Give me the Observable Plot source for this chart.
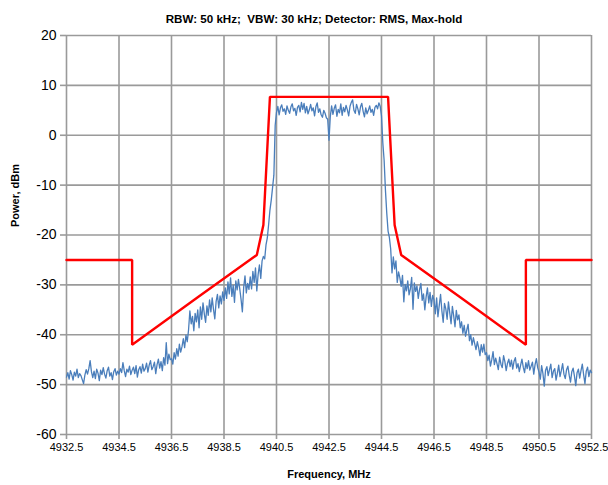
<!DOCTYPE html>
<html>
<head>
<meta charset="utf-8">
<script src="https://cdn.jsdelivr.net/npm/d3@7"></script>
<script src="https://cdn.jsdelivr.net/npm/@observablehq/plot@0.6"></script>
<style>
  html, body { margin: 0; padding: 0; background: #fff; }
  #chart svg { display: block; }
</style>
</head>
<body>
<div id="chart"></div>
<script>
const titleText = "RBW: 50 kHz;  VBW: 30 kHz; Detector: RMS, Max-hold";
const xLabel = "Frequency, MHz";
const yLabel = "Power, dBm";

const xTickValues = [4932.5, 4934.5, 4936.5, 4938.5, 4940.5, 4942.5, 4944.5, 4946.5, 4948.5, 4950.5, 4952.5];
const yTickValues = [-60, -50, -40, -30, -20, -10, 0, 10, 20];

// Spectrum sweep: start frequency and step (MHz)
const sweepStart = 4932.5;
const sweepStep = 0.05;
// Measured power (dBm), one row per MHz
const spectrumPower = [
  -48.5, -47.6, -48.9, -47.2, -48.0, -49.1, -47.5, -48.3, -46.9, -48.6, -47.8, -48.2, -49.0, -49.8, -48.1, -47.0, -47.9, -46.8, -45.2, -47.4,
  -48.6, -47.3, -48.8, -46.9, -47.7, -49.2, -47.1, -48.0, -46.6, -47.9, -48.7, -47.2, -46.5, -48.3, -47.6, -49.0, -47.4, -46.8, -48.1, -47.3,
  -47.9, -46.8, -47.6, -45.6, -47.2, -48.4, -46.9, -47.5, -46.3, -48.0, -47.1, -46.5, -47.8, -46.2, -48.5, -47.0, -46.4, -47.7, -45.9, -47.3,
  -46.8, -45.7, -47.5, -46.1, -45.2, -47.0, -46.4, -45.5, -47.8, -46.0, -44.9, -46.7, -45.4, -47.2, -44.6, -46.1, -41.6, -45.8, -43.9, -45.0,
  -44.8, -45.9, -43.6, -44.9, -42.8, -44.3, -41.9, -43.5, -42.4, -40.8, -42.6, -40.1, -41.4, -39.0, -35.2, -37.8, -36.3, -39.2, -35.7, -37.4,
  -35.0, -38.6, -34.4, -36.9, -33.6, -35.8, -37.5, -34.2, -36.1, -33.0, -35.4, -32.6, -34.9, -36.8, -33.3, -31.9, -34.6, -32.2, -33.8, -31.4,
  -33.1, -30.6, -32.7, -29.4, -31.8, -28.6, -32.3, -30.1, -33.5, -29.2, -31.0, -28.9, -30.8, -32.9, -35.4, -30.5, -28.2, -31.6, -29.7, -30.9,
  -28.4, -30.8, -27.3, -29.5, -26.6, -31.2, -27.9, -26.0, -28.7, -25.2, -24.3, -24.8, -22.0, -20.6, -17.9, -15.0, -13.0, -10.5, -8.0, 2.0,
  4.6, 5.8, 4.1, 5.5, 6.1, 4.8, 5.3, 4.2, 5.9, 5.0, 4.4, 5.7, 6.3, 4.9, 5.4, 4.0, 5.6, 6.0, 4.7, 6.6,
  5.2, 6.4, 4.5, 5.8, 4.3, 5.1, 6.2, 4.9, 5.5, 3.9, 5.7, 6.5, 4.6, 5.3, 4.1, 3.6, 5.0, 4.4, 3.5, 3.2,
  -1.0, 3.8, 5.9, 4.2, 5.4, 6.1, 3.8, 5.2, 4.5, 6.3, 4.0, 5.6, 4.7, 6.0, 5.1, 3.9, 5.8, 6.6, 7.1, 5.0,
  4.4, 6.2, 5.3, 4.1, 5.7, 6.4, 4.8, 3.7, 5.5, 4.3, 5.0, 5.9, 4.6, 5.2, 4.0, 5.6, 6.0, 5.3, 6.5, 5.8,
  3.9, -1.5, -5.0, -11.0, -15.6, -19.2, -20.5, -22.8, -27.6, -24.4, -26.8, -25.2, -29.5, -27.4, -28.6, -30.3, -28.1, -33.4, -29.9, -31.2,
  -29.2, -32.0, -30.8, -28.5, -34.9, -29.6, -31.3, -30.2, -32.7, -30.9, -29.7, -33.1, -31.8, -35.0, -32.4, -30.6, -33.6, -31.5, -34.3, -32.1,
  -33.0, -35.8, -32.6, -36.4, -34.1, -31.9, -35.2, -37.5, -33.7, -34.8, -36.9, -33.4, -35.6, -37.8, -34.3, -36.2, -38.4, -35.1, -37.0, -36.0,
  -38.6, -37.4, -39.7, -38.1, -40.3, -39.0, -37.9, -41.2, -40.0, -42.1, -40.6, -41.8, -43.0, -41.4, -42.6, -44.2, -42.0, -43.5, -41.9, -44.0,
  -43.6, -45.2, -44.1, -46.3, -45.0, -43.4, -46.0, -44.7, -45.8, -47.0, -44.5, -45.9, -46.6, -44.2, -45.4, -47.2, -45.7, -44.9, -46.4, -45.1,
  -46.9, -45.3, -44.6, -46.7, -45.8, -47.4, -46.1, -44.9, -46.5, -47.6, -45.6, -46.8, -45.2, -47.1, -46.3, -45.5, -47.9, -46.0, -44.8, -46.6,
  -47.5, -48.9, -46.2, -47.8, -50.3, -47.1, -46.4, -48.2, -47.0, -45.9, -48.6, -47.3, -46.8, -49.1, -47.7, -46.1, -48.4, -47.2, -45.8, -47.9,
  -48.8, -47.0, -46.3, -48.1, -49.5, -47.4, -46.7, -48.3, -50.2, -47.6, -46.9, -48.7, -47.2, -45.9, -48.0, -49.8, -47.3, -46.5, -48.4, -47.1, -47.6
];

// Spectral emission mask
const maskFreq  = [4932.5, 4935.0, 4935.0, 4937.5, 4939.75, 4940.0, 4940.25, 4944.75, 4945.0, 4945.25, 4947.5, 4950.0, 4950.0, 4952.5];
const maskPower = [-25, -25, -42, -32.5, -24, -18, 7.7, 7.7, -18, -24, -32.5, -42, -25, -25];

const spectrum = spectrumPower.map((p, i) => ({f: sweepStart + i * sweepStep, p}));
const mask = maskFreq.map((f, i) => ({f, p: maskPower[i]}));

const gridColor = "#9a9a9a";
const font = "'Liberation Sans', Arial, sans-serif";

const chart = Plot.plot({
  width: 608,
  height: 485,
  marginLeft: 66,
  marginRight: 17,
  marginTop: 35,
  marginBottom: 51,
  style: {fontFamily: font, background: "#fff", color: "#000"},
  x: {domain: [4932.5, 4952.5], label: null},
  y: {domain: [-60, 20], label: null},
  marks: [
    Plot.gridX(xTickValues, {stroke: gridColor, strokeOpacity: 1, strokeWidth: 1.6}),
    Plot.gridY(yTickValues, {stroke: gridColor, strokeOpacity: 1, strokeWidth: 1.6}),
    Plot.axisX(xTickValues, {tickFormat: d => d.toFixed(1), tickSize: 5, tickPadding: 4, fontSize: 11, stroke: gridColor, strokeWidth: 1.6, fill: "#000"}),
    Plot.axisY(yTickValues, {tickFormat: d => String(d), tickSize: 6, tickPadding: 4, fontSize: 14, stroke: gridColor, strokeWidth: 1.6, fill: "#000"}),
    Plot.line(spectrum, {x: "f", y: "p", stroke: "#4a7ebb", strokeWidth: 1.3}),
    Plot.line(mask, {x: "f", y: "p", stroke: "#ff0000", strokeWidth: 2.4, strokeLinejoin: "miter"}),
    Plot.text([titleText], {frameAnchor: "top", dy: -21, dx: -15, fontSize: 11.6, fontWeight: "bold", fill: "#000"}),
    Plot.text([xLabel], {frameAnchor: "bottom", dy: 43, fontSize: 11, fontWeight: "bold", fill: "#000"}),
    Plot.text([yLabel], {frameAnchor: "left", dx: -51, dy: -8, rotate: -90, fontSize: 11, fontWeight: "bold", fill: "#000"})
  ]
});
document.getElementById("chart").appendChild(chart);
</script>
</body>
</html>
